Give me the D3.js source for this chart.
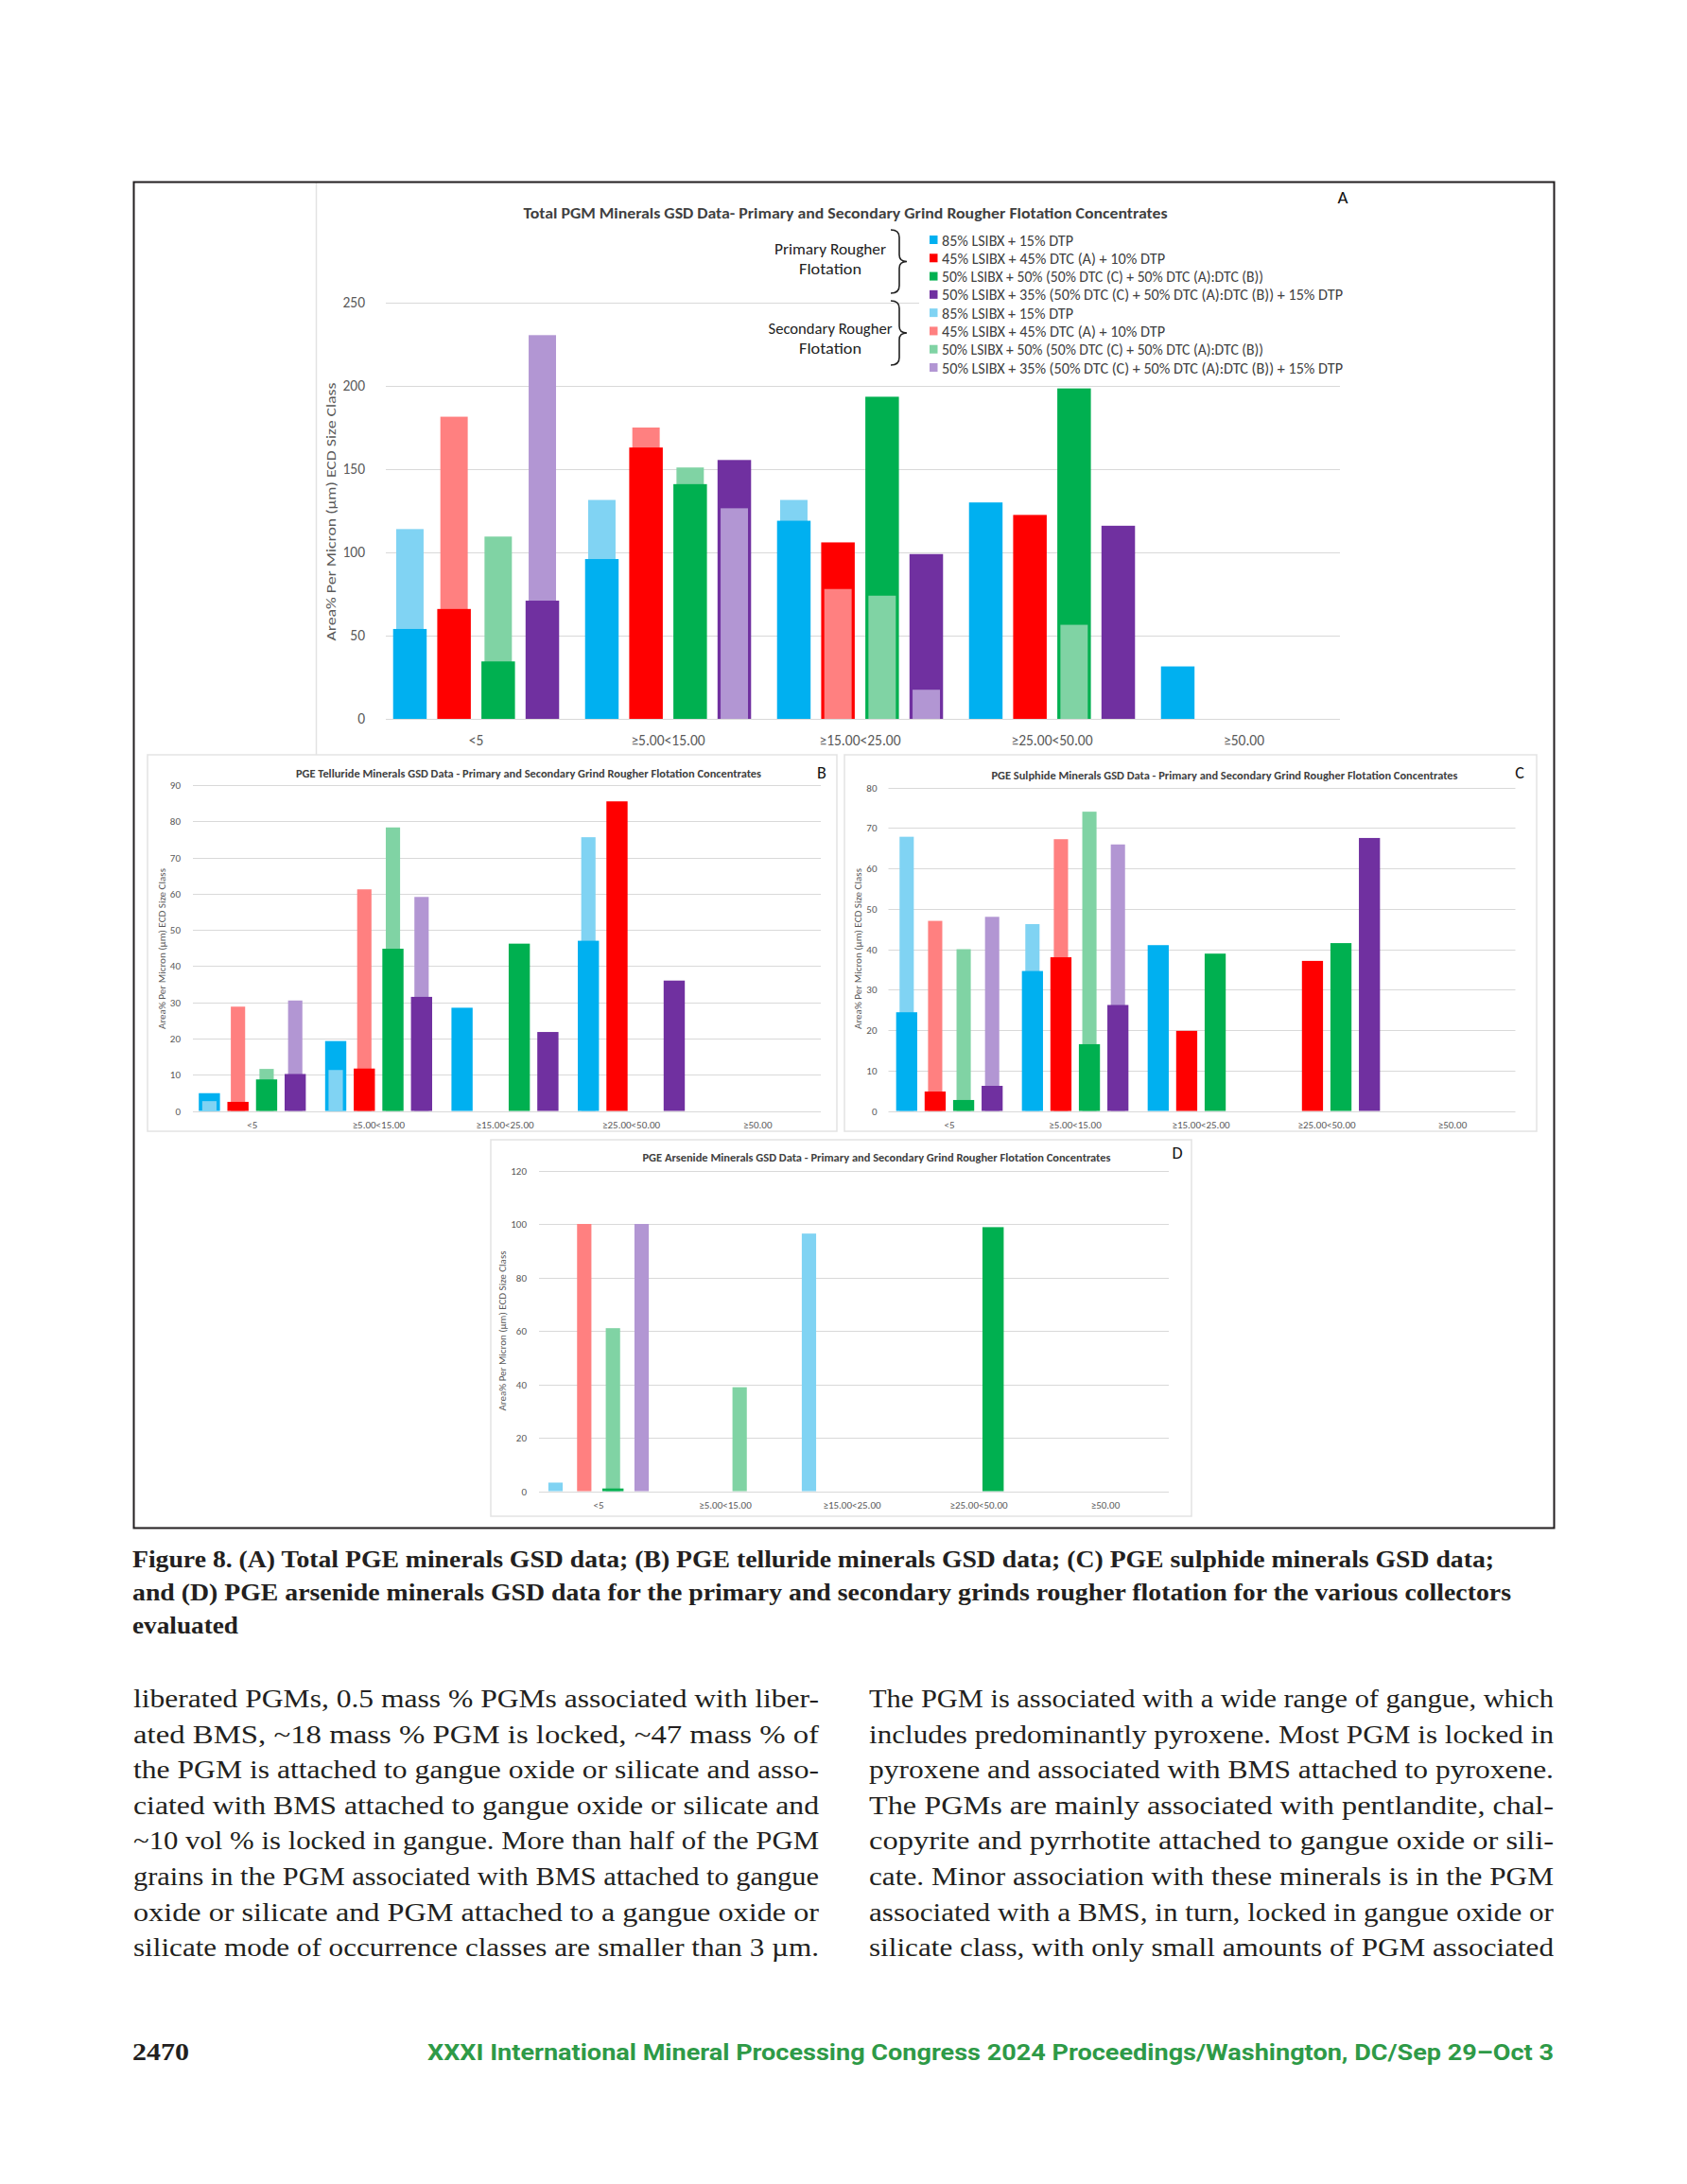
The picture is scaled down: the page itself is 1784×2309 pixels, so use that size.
<!DOCTYPE html>
<html>
<head>
<meta charset="utf-8">
<script src="https://cdn.jsdelivr.net/npm/d3@7"></script>
<style>
  html, body { margin: 0; padding: 0; background: #fff; }
  svg { display: block; }
</style>
</head>
<body>
<script>
// ---------------- DATA ----------------
const categories = ["<5", "≥5.00<15.00", "≥15.00<25.00", "≥25.00<50.00", "≥50.00"];
const collectors = [
  "85% LSIBX + 15% DTP",
  "45% LSIBX + 45% DTC (A) + 10% DTP",
  "50% LSIBX + 50% (50% DTC (C) + 50% DTC (A):DTC (B))",
  "50% LSIBX + 35% (50% DTC (C) + 50% DTC (A):DTC (B)) + 15% DTP"
];
const legendGroups = [["Primary Rougher", "Flotation"], ["Secondary Rougher", "Flotation"]];
const primaryColors = ["#00b0f0", "#ff0000", "#00b050", "#7030a0"];
const secondaryColors = ["#80d3f3", "#ff8080", "#80d3a4", "#b296d3"];

// rows = collectors, columns = size classes
const totalPrimary = [
  [54, 96, 119, 130, 31.5],
  [66, 163, 106, 122.5, 0],
  [34.5, 141, 193.5, 198.5, 0],
  [71, 155.5, 99, 116, 0]
];
const totalSecondary = [
  [114, 131.5, 131.5, 0, 0],
  [181.5, 175, 78, 0, 0],
  [109.5, 151, 74, 56.5, 0],
  [230.5, 126.5, 17.5, 0, 0]
];
const telluridePrimary = [
  [4.9, 19.3, 28.5, 47, 0],
  [2.5, 11.7, 0, 85.5, 0],
  [8.7, 44.8, 46.2, 0, 0],
  [10.2, 31.5, 21.8, 36, 0]
];
const tellurideSecondary = [
  [2.7, 11.3, 0, 75.6, 0],
  [28.8, 61.2, 0, 0, 0],
  [11.6, 78.3, 0, 0, 0],
  [30.5, 59.1, 0, 0, 0]
];
const sulphidePrimary = [
  [24.4, 34.6, 41, 0, 0],
  [4.8, 38, 19.8, 37.1, 0],
  [2.7, 16.5, 38.9, 41.5, 0],
  [6.2, 26.2, 0, 67.5, 0]
];
const sulphideSecondary = [
  [67.8, 46.2, 0, 0, 0],
  [47, 67.2, 0, 0, 0],
  [40, 74, 0, 0, 0],
  [48, 65.9, 0, 0, 0]
];
const arsenidePrimary = [
  [0, 0, 0, 0, 0],
  [0, 0, 0, 0, 0],
  [1, 0, 0, 98.8, 0],
  [0, 0, 0, 0, 0]
];
const arsenideSecondary = [
  [3.2, 0, 96.4, 0, 0],
  [100, 0, 0, 0, 0],
  [61, 38.9, 0, 0, 0],
  [100, 0, 0, 0, 0]
];
const ticksA = [0, 50, 100, 150, 200, 250];
const ticksB = [0, 10, 20, 30, 40, 50, 60, 70, 80, 90];
const ticksC = [0, 10, 20, 30, 40, 50, 60, 70, 80];
const ticksD = [0, 20, 40, 60, 80, 100, 120];

const titleA = "Total PGM Minerals GSD Data- Primary and Secondary Grind Rougher Flotation Concentrates";
const titleB = "PGE Telluride Minerals GSD Data - Primary and Secondary Grind Rougher Flotation Concentrates";
const titleC = "PGE Sulphide Minerals GSD Data - Primary and Secondary Grind Rougher Flotation Concentrates";
const titleD = "PGE Arsenide Minerals GSD Data - Primary and Secondary Grind Rougher Flotation Concentrates";
const yTitle = "Area% Per Micron (µm) ECD Size Class";

const captionLines = [
  "Figure 8. (A) Total PGE minerals GSD data; (B) PGE telluride minerals GSD data; (C) PGE sulphide minerals GSD data;",
  "and (D) PGE arsenide minerals GSD data for the primary and secondary grinds rougher flotation for the various collectors",
  "evaluated"
];
const leftColumn = [
  "liberated PGMs, 0.5 mass % PGMs associated with liber-",
  "ated BMS, ~18 mass % PGM is locked, ~47 mass % of",
  "the PGM is attached to gangue oxide or silicate and asso-",
  "ciated with BMS attached to gangue oxide or silicate and",
  "~10 vol % is locked in gangue. More than half of the PGM",
  "grains in the PGM associated with BMS attached to gangue",
  "oxide or silicate and PGM attached to a gangue oxide or",
  "silicate mode of occurrence classes are smaller than 3 µm."
];
const rightColumn = [
  "The PGM is associated with a wide range of gangue, which",
  "includes predominantly pyroxene. Most PGM is locked in",
  "pyroxene and associated with BMS attached to pyroxene.",
  "The PGMs are mainly associated with pentlandite, chal-",
  "copyrite and pyrrhotite attached to gangue oxide or sili-",
  "cate. Minor association with these minerals is in the PGM",
  "associated with a BMS, in turn, locked in gangue oxide or",
  "silicate class, with only small amounts of PGM associated"
];
const pageNumber = "2470";
const footerText = "XXXI International Mineral Processing Congress 2024 Proceedings/Washington, DC/Sep 29–Oct 3";

// ---------------- DRAW ----------------
const W = 1784, H = 2309;
const chartFont = "Carlito, 'Liberation Sans Narrow', Lato, 'Open Sans', sans-serif";
const serif = "'Liberation Serif', 'DejaVu Serif', serif";

const svg = d3.select("body").append("svg")
  .attr("width", W).attr("height", H).attr("viewBox", `0 0 ${W} ${H}`);
svg.append("rect").attr("width", W).attr("height", H).attr("fill", "#fff");

// faint chart-area borders
svg.append("line").attr("x1", 334.5).attr("x2", 334.5).attr("y1", 193).attr("y2", 798)
  .attr("stroke", "#e3e3e3").attr("stroke-width", 1.5);
const panels = [
  {x: 156, y: 798, w: 729, h: 398},
  {x: 893, y: 798, w: 732, h: 398},
  {x: 519, y: 1205, w: 741, h: 398}
];
svg.selectAll("rect.panel").data(panels).join("rect")
  .attr("class", "panel")
  .attr("x", d => d.x).attr("y", d => d.y).attr("width", d => d.w).attr("height", d => d.h)
  .attr("fill", "none").attr("stroke", "#e3e3e3").attr("stroke-width", 1.5);

function drawChart(cfg) {
  const g = svg.append("g");
  const x = d3.scaleBand().domain(categories).range([cfg.x0, cfg.x1])
    .paddingInner(cfg.pad).paddingOuter(cfg.pad / 2);
  const xs = d3.scaleBand().domain([0, 1, 2, 3]).range([0, x.bandwidth()]);
  const y = d3.scaleLinear().domain([0, cfg.ticks[cfg.ticks.length - 1]]).range([cfg.y0, cfg.yTop]);

  // gridlines
  g.append("g").selectAll("line").data(cfg.ticks).join("line")
    .attr("x1", cfg.x0 + cfg.gridInset).attr("x2", cfg.x1)
    .attr("y1", d => Math.round(y(d)) + 0.5).attr("y2", d => Math.round(y(d)) + 0.5)
    .attr("stroke", "#d9d9d9").attr("stroke-width", 1);

  // y axis
  const ya = g.append("g").attr("transform", `translate(${cfg.x0 - cfg.yLabelGap},0)`)
    .call(d3.axisLeft(y).tickValues(cfg.ticks).tickSize(0).tickPadding(0));
  ya.select(".domain").remove();
  ya.selectAll("text").attr("font-family", chartFont).attr("font-size", cfg.tickSize).attr("fill", "#595959");

  // x axis
  const xa = g.append("g").attr("transform", `translate(0,${cfg.y0})`)
    .call(d3.axisBottom(x).tickSize(0).tickPadding(cfg.xLabelPad));
  xa.select(".domain").remove();
  xa.selectAll("text").attr("font-family", chartFont).attr("font-size", cfg.tickSize).attr("fill", "#595959");

  // bars: shorter bar of each pair drawn in front
  const items = [];
  cfg.primary.forEach((row, i) => row.forEach((v, j) => {
    if (v > 0) items.push({i, j, v, w: cfg.pw, c: primaryColors[i]});
  }));
  cfg.secondary.forEach((row, i) => row.forEach((v, j) => {
    if (v > 0) items.push({i, j, v, w: cfg.sw, c: secondaryColors[i]});
  }));
  items.sort((a, b) => b.v - a.v);
  const sb = xs.bandwidth();
  g.append("g").selectAll("rect").data(items).join("rect")
    .attr("x", d => x(categories[d.j]) + xs(d.i) + (sb - sb * d.w) / 2)
    .attr("width", d => sb * d.w)
    .attr("y", d => y(d.v))
    .attr("height", d => y(0) - y(d.v))
    .attr("fill", d => d.c);

  // title
  g.append("text").attr("x", cfg.titleX).attr("y", cfg.titleY)
    .attr("text-anchor", "middle").attr("dominant-baseline", "central")
    .attr("font-family", chartFont).attr("font-weight", "bold").attr("font-size", cfg.titleSize)
    .attr("fill", "#404040")
    .attr("textLength", cfg.titleLen).attr("lengthAdjust", "spacingAndGlyphs")
    .text(cfg.title);
  // panel letter
  g.append("text").attr("x", cfg.letterX).attr("y", cfg.letterY)
    .attr("text-anchor", "middle").attr("dominant-baseline", "central")
    .attr("font-family", chartFont).attr("font-size", cfg.letterSize).attr("fill", "#111")
    .text(cfg.letter);
  // y title
  g.append("text")
    .attr("transform", `translate(${cfg.yTitleX},${cfg.yTitleY}) rotate(-90)`)
    .attr("text-anchor", "middle").attr("dominant-baseline", "central")
    .attr("font-family", chartFont).attr("font-size", cfg.yTitleSize).attr("fill", "#595959")
    .attr("textLength", cfg.yTitleLen).attr("lengthAdjust", "spacingAndGlyphs")
    .text(yTitle);
  return g;
}

drawChart({
  x0: 402, x1: 1417, pad: 0.08, pw: 0.76, sw: 0.62, gridInset: 6,
  y0: 760, yTop: 320, ticks: ticksA, tickSize: 15.5, yLabelGap: 16, xLabelPad: 17,
  primary: totalPrimary, secondary: totalSecondary,
  title: titleA, titleX: 894, titleY: 225, titleSize: 16, titleLen: 681,
  letter: "A", letterX: 1420, letterY: 208, letterSize: 19,
  yTitleX: 350, yTitleY: 541, yTitleSize: 15, yTitleLen: 273
});
drawChart({
  x0: 200, x1: 868, pad: 0.094, pw: 0.74, sw: 0.5, gridInset: 4,
  y0: 1174.5, yTop: 830, ticks: ticksB, tickSize: 11, yLabelGap: 9, xLabelPad: 11,
  primary: telluridePrimary, secondary: tellurideSecondary,
  title: titleB, titleX: 559, titleY: 818, titleSize: 11.5, titleLen: 492,
  letter: "B", letterX: 869, letterY: 817, letterSize: 18,
  yTitleX: 171, yTitleY: 1003, yTitleSize: 10, yTitleLen: 170
});
drawChart({
  x0: 937.5, x1: 1602.5, pad: 0.094, pw: 0.74, sw: 0.5, gridInset: 2,
  y0: 1174.5, yTop: 832.5, ticks: ticksC, tickSize: 11, yLabelGap: 10, xLabelPad: 11,
  primary: sulphidePrimary, secondary: sulphideSecondary,
  title: titleC, titleX: 1295, titleY: 820, titleSize: 11.5, titleLen: 493,
  letter: "C", letterX: 1607, letterY: 817, letterSize: 18,
  yTitleX: 907, yTitleY: 1003, yTitleSize: 10, yTitleLen: 170
});
drawChart({
  x0: 566, x1: 1236, pad: 0.094, pw: 0.74, sw: 0.5, gridInset: 4,
  y0: 1576.5, yTop: 1237.5, ticks: ticksD, tickSize: 11, yLabelGap: 9, xLabelPad: 11,
  primary: arsenidePrimary, secondary: arsenideSecondary,
  title: titleD, titleX: 927, titleY: 1224, titleSize: 11.5, titleLen: 495,
  letter: "D", letterX: 1245, letterY: 1219, letterSize: 18,
  yTitleX: 531, yTitleY: 1407, yTitleSize: 10, yTitleLen: 169
});

// ---------------- LEGEND (chart A) ----------------
const lg = svg.append("g");
lg.append("rect").attr("x", 972).attr("y", 243).attr("width", 455).attr("height", 156).attr("fill", "#fff");
const legendRows = [];
collectors.forEach((c, i) => legendRows.push({label: c, color: primaryColors[i]}));
collectors.forEach((c, i) => legendRows.push({label: c, color: secondaryColors[i]}));
const legendLens = [139, 236, 340, 424];
const rowY = d3.scaleLinear().domain([0, 7]).range([253.5, 388.5]);
const lr = lg.selectAll("g.row").data(legendRows).join("g").attr("class", "row")
  .attr("transform", (d, k) => `translate(983,${rowY(k)})`);
lr.append("rect").attr("x", 0).attr("y", -4.5).attr("width", 8.5).attr("height", 9).attr("fill", d => d.color);
lr.append("text").attr("x", 13).attr("y", 0.5).attr("dominant-baseline", "central")
  .attr("font-family", chartFont).attr("font-size", 16).attr("fill", "#404040")
  .attr("textLength", (d, k) => legendLens[k % 4]).attr("lengthAdjust", "spacingAndGlyphs")
  .text(d => d.label);

const groupCfg = [
  {y1: 243, y2: 310, ty: [263, 284], lens: [118, 66]},
  {y1: 318, y2: 386, ty: [347, 368], lens: [131, 66]}
];
groupCfg.forEach((gc, k) => {
  const ym = (gc.y1 + gc.y2) / 2;
  lg.append("path")
    .attr("d", `M942,${gc.y1} Q951,${gc.y1} 951,${gc.y1 + 8} L951,${ym - 7} Q951,${ym} 959,${ym} Q951,${ym} 951,${ym + 7} L951,${gc.y2 - 8} Q951,${gc.y2} 942,${gc.y2}`)
    .attr("fill", "none").attr("stroke", "#222").attr("stroke-width", 1.6);
  legendGroups[k].forEach((t, m) => {
    lg.append("text").attr("x", 878).attr("y", gc.ty[m]).attr("text-anchor", "middle")
      .attr("dominant-baseline", "central")
      .attr("font-family", chartFont).attr("font-size", 17).attr("fill", "#222")
      .attr("textLength", gc.lens[m]).attr("lengthAdjust", "spacingAndGlyphs")
      .text(t);
  });
});

// ---------------- OUTER FRAME ----------------
svg.append("rect").attr("x", 141.5).attr("y", 192.5).attr("width", 1502).attr("height", 1423)
  .attr("fill", "none").attr("stroke", "#231f20").attr("stroke-width", 2);

// ---------------- CAPTION ----------------
const capLens = [1440, 1458, 112];
svg.append("g").selectAll("text").data(captionLines).join("text")
  .attr("x", 140).attr("y", (d, i) => 1657 + i * 35)
  .attr("font-family", serif).attr("font-weight", "bold").attr("font-size", 25).attr("fill", "#231f20")
  .attr("textLength", (d, i) => capLens[i]).attr("lengthAdjust", "spacingAndGlyphs")
  .text(d => d);

// ---------------- BODY TEXT ----------------
function column(lines, x, width) {
  svg.append("g").selectAll("text").data(lines).join("text")
    .attr("x", x).attr("y", (d, i) => 1805 + i * 37.6)
    .attr("font-family", serif).attr("font-size", 28).attr("fill", "#231f20")
    .attr("textLength", width).attr("lengthAdjust", "spacingAndGlyphs")
    .text(d => d);
}
column(leftColumn, 141, 725);
column(rightColumn, 919, 724);

// ---------------- FOOTER ----------------
svg.append("text").attr("x", 140).attr("y", 2178)
  .attr("font-family", serif).attr("font-weight", "bold").attr("font-size", 25).attr("fill", "#231f20")
  .attr("textLength", 60).attr("lengthAdjust", "spacingAndGlyphs").text(pageNumber);
svg.append("text").attr("x", 452).attr("y", 2178)
  .attr("font-family", "Roboto, 'Liberation Sans', sans-serif").attr("font-weight", "bold")
  .attr("font-size", 24).attr("fill", "#2e9a47")
  .attr("textLength", 1191).attr("lengthAdjust", "spacingAndGlyphs").text(footerText);
</script>
</body>
</html>
